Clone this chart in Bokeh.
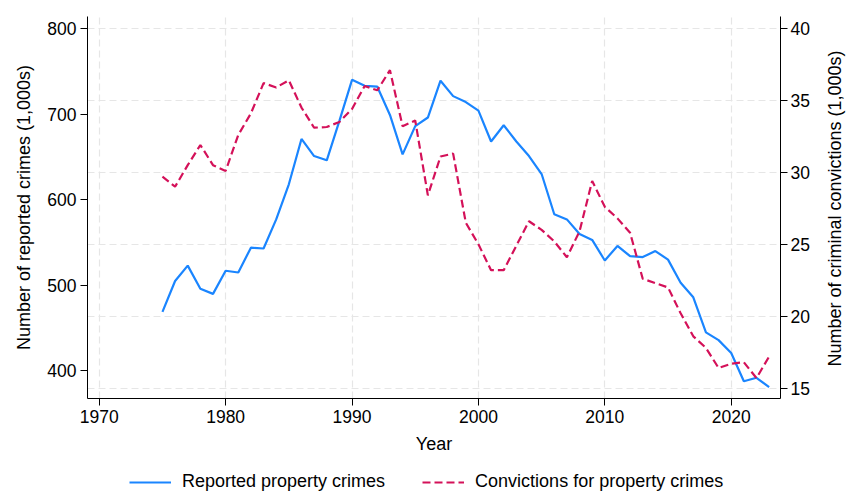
import math
from bokeh.plotting import figure
from bokeh.layouts import row, column
from bokeh.models import (Range1d, LinearAxis, FixedTicker, Grid, Legend, LegendItem,
                          ColumnDataSource, Label)
from bokeh.embed import file_html
from bokeh.resources import INLINE

years = list(range(1975, 2024))
reported = [469, 505, 523, 496, 490, 517, 515, 544, 543, 577, 618, 671, 651, 646, 692,
            740, 733, 732, 699, 653, 686, 696, 739, 721, 714, 704, 668, 687, 668, 651,
            630, 583, 577, 560, 553, 529, 546, 534, 533, 540, 530, 503, 486, 445, 436,
            421, 388, 392, 381]
convictions = [29.7, 29.0, 30.5, 31.9, 30.5, 30.1, 32.6, 34.1, 36.2, 35.9, 36.4, 34.5, 33.1, 33.15, 33.5,
               34.4, 36.0, 35.7, 37.1, 33.2, 33.6, 28.4, 31.1, 31.3, 26.5, 25.0, 23.2, 23.2, 24.9, 26.6,
               26.0, 25.2, 24.1, 25.9, 29.4, 27.6, 26.8, 25.8, 22.6, 22.3, 22.0, 20.2, 18.6, 17.8, 16.4,
               16.7, 16.8, 15.7, 17.2]
x_ticks = [1970, 1980, 1990, 2000, 2010, 2020]
left_ticks = [400, 500, 600, 700, 800]
right_ticks = [15, 20, 25, 30, 35, 40]
series_labels = ["Reported property crimes", "Convictions for property crimes"]
right_title = "Number of criminal convictions (1,000s)"

BLUE = "#1a85ff"
RED = "#d41159"
FONT = "Liberation Sans"
RED_DASH = "8 4"

src = ColumnDataSource(dict(year=years, reported=reported, convictions=convictions))

p = figure(width=826, height=462, output_backend="svg", toolbar_location=None,
           x_range=Range1d(1969.07, 2023.9), y_range=Range1d(367.8, 814.0),
           min_border_left=87, min_border_right=46, min_border_top=16, min_border_bottom=64)
p.extra_y_ranges = {"conv": Range1d(14.28, 40.83)}
p.outline_line_color = None
p.background_fill_color = "white"
p.border_fill_color = "white"

r1 = p.line("year", "reported", source=src, line_color=BLUE, line_width=2.2)
r2 = p.line("year", "convictions", source=src, y_range_name="conv", line_color=RED,
            line_width=2.2, line_dash=RED_DASH)

right = LinearAxis(y_range_name="conv")
p.add_layout(right, "right")

def style(ax, ticks, label):
    ax.ticker = FixedTicker(ticks=ticks)
    ax.axis_label = label
    ax.axis_label_text_font = FONT
    ax.axis_label_text_font_size = "18px"
    ax.axis_label_text_font_style = "normal"
    ax.axis_label_text_color = "#000000"
    ax.major_label_text_font = FONT
    ax.major_label_text_font_size = "17.5px"
    ax.major_label_text_color = "#000000"
    ax.axis_line_color = "#000000"
    ax.axis_line_width = 1
    ax.major_tick_line_color = "#000000"
    ax.major_tick_in = 0
    ax.major_tick_out = 7
    ax.minor_tick_line_color = None
    ax.major_label_standoff = 4

style(p.xaxis[0], x_ticks, "Year")
style(p.yaxis[0], left_ticks, "Number of reported crimes (1,000s)")
style(right, right_ticks, None)
p.yaxis[0].axis_label_standoff = 10
right.major_label_standoff = 3
p.xaxis[0].major_label_standoff = 4
p.xaxis[0].axis_label_standoff = 8

p.xgrid.ticker = FixedTicker(ticks=x_ticks)
p.xgrid.grid_line_color = "#e6e6e6"
p.xgrid.grid_line_dash = "7 4"
p.xgrid.grid_line_width = 1.2
p.ygrid.visible = False
g = Grid(dimension=1, ticker=FixedTicker(ticks=right_ticks), y_range_name="conv",
         grid_line_color="#e6e6e6", grid_line_dash="7 4", grid_line_width=1.2)
p.add_layout(g)

# right-hand axis title (reads bottom-to-top, like the reference)
plab = figure(width=20, height=462, output_backend="svg", toolbar_location=None,
              x_axis_location=None, y_axis_location=None, min_border=0,
              x_range=Range1d(0, 1), y_range=Range1d(0, 1))
plab.outline_line_color = None
plab.xgrid.visible = False
plab.ygrid.visible = False
plab.add_layout(Label(x=8, y=190, x_units="screen", y_units="screen", text=right_title,
                      angle=math.pi / 2, text_align="center", text_baseline="middle",
                      text_font=FONT, text_font_size="18px", text_color="#000000"))

# legend strip below (its renderers sit outside the strip's visible range)
pleg = figure(width=846, height=30, output_backend="svg", toolbar_location=None,
              x_axis_location=None, y_axis_location=None, min_border=0,
              x_range=Range1d(0, 1), y_range=Range1d(0, 1))
pleg.outline_line_color = None
pleg.xgrid.visible = False
pleg.ygrid.visible = False
l1 = pleg.line("year", "reported", source=src, line_color=BLUE, line_width=2.2)
l2 = pleg.line("year", "convictions", source=src, line_color=RED, line_width=2.2,
               line_dash=RED_DASH)
legend = Legend(items=[LegendItem(label=series_labels[0], renderers=[l1]),
                       LegendItem(label=series_labels[1], renderers=[l2])],
                orientation="horizontal", location=(129, 0),
                glyph_width=42, glyph_height=20, label_standoff=11, spacing=37,
                padding=0, margin=0, border_line_color=None, background_fill_alpha=0,
                label_text_font=FONT, label_text_font_size="18px", label_text_color="#000000")
pleg.add_layout(legend)

layout = column(row(p, plab), pleg)
open("out.html", "w").write(file_html(layout, INLINE))
